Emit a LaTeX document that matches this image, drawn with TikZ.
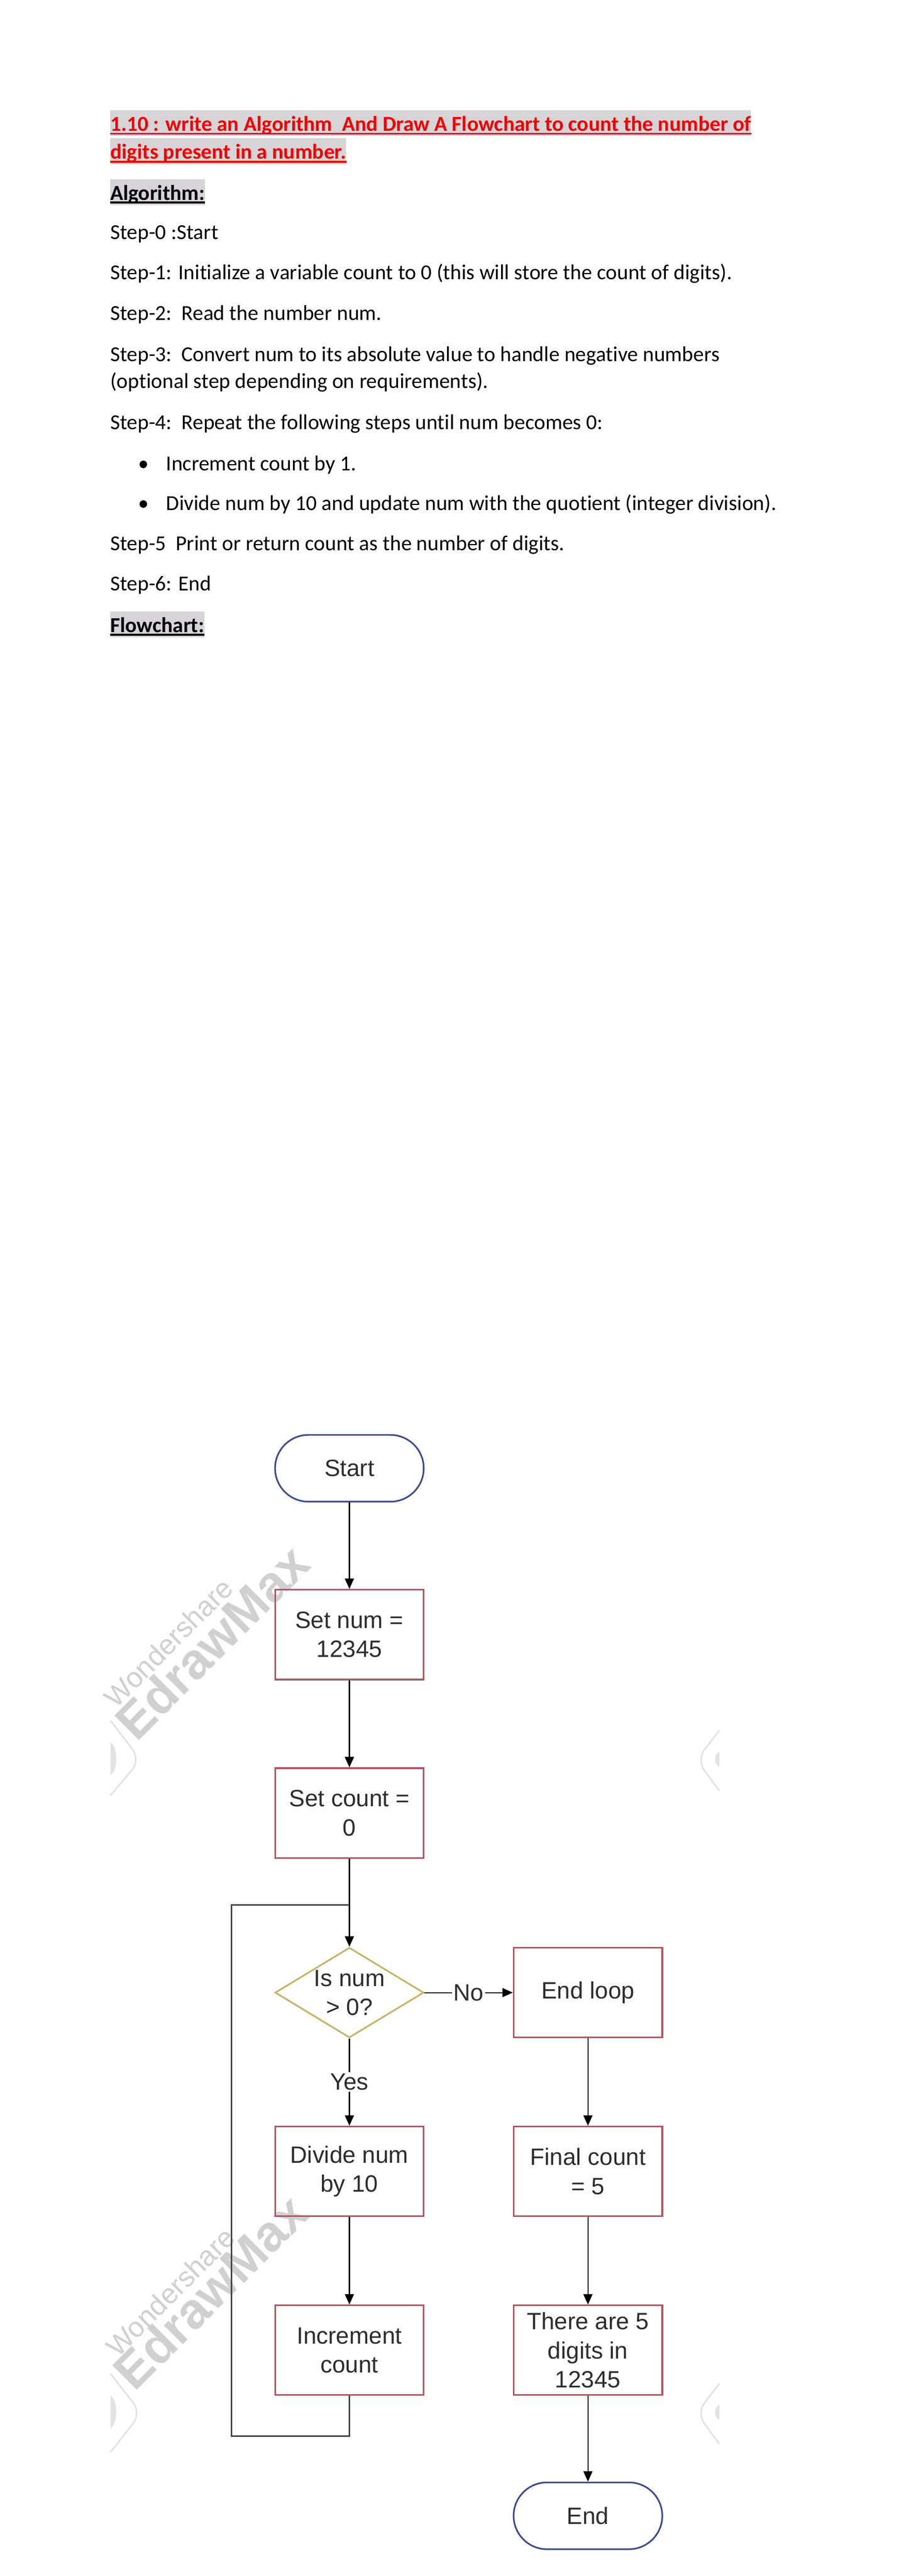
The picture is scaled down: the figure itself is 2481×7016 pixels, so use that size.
\documentclass[tikz,border=0pt]{standalone}
\usepackage{fontspec}
\setmainfont{Carlito}[Ligatures=NoCommon]
\newfontfamily\chartfont{Liberation Sans}
\usetikzlibrary{arrows.meta,shapes.geometric}
\definecolor{hlgrey}{RGB}{214,212,215}
\definecolor{titlered}{RGB}{240,0,0}
\definecolor{boxred}{RGB}{170,88,98}
\definecolor{termblue}{RGB}{62,76,140}
\definecolor{decgold}{RGB}{196,180,105}
\definecolor{chartink}{RGB}{45,45,45}
\definecolor{loopgrey}{RGB}{70,70,70}
\definecolor{wmgrey}{RGB}{208,208,208}
\definecolor{logogrey}{RGB}{226,226,226}
\begin{document}
\begin{tikzpicture}
    [x=0.08467mm, y=-0.08467mm,
    txt/.style = {anchor=base west, inner sep=0pt,
                font=\fontsize{14}{17}\selectfont},
    head/.style = {txt, fill=hlgrey, text height=4.83mm, text depth=1.19mm,
                font=\fontsize{14}{17}\selectfont\bfseries},
    box/.style = {draw=boxred, line width=0.38mm,
                minimum width=34.3mm, minimum height=20.7mm,
                align=center, text=chartink,
                font=\chartfont\fontsize{15.5}{19}\selectfont},
    term/.style = {box, draw=termblue, minimum height=15.4mm,
                rounded corners=7.7mm},
    dec/.style = {diamond, draw=decgold, line width=0.38mm,
                minimum width=34.3mm, minimum height=20.8mm, inner sep=0pt},
    arr/.style = {line width=0.25mm, -{Triangle[length=2.4mm,width=2.1mm]}},
    wm/.style = {anchor=base west, inner sep=0pt, rotate=45, text=wmgrey}]
    \fill[white] (0,0) rectangle (2481,7016);
    \useasboundingbox (0,0) rectangle (2481,7016);
    % algorithm text
    \node[head, text=titlered] (t1) at (300,357) {1.10 : write an Algorithm\ \ And Draw A Flowchart to count the number of};
    \node[head, text=titlered] (t2) at (300,433) {digits present in a number.};
    \draw[titlered, line width=0.45mm] ([yshift=-0.6mm]t1.base west) -- ([yshift=-0.6mm]t1.base east);
    \draw[titlered, line width=0.45mm] ([yshift=-0.6mm]t2.base west) -- ([yshift=-0.6mm]t2.base east);
    \node[head] (alg) at (300,545) {Algorithm:};
    \draw[line width=0.45mm] ([yshift=-0.55mm]alg.base west) -- ([yshift=-0.55mm]alg.base east);
    \node[txt] (s0) at (300,652) {Step-0 :Start};
    \node[txt] (s1) at (300,761) {Step-1: Initialize a variable count to 0 (this will store the count of digits).};
    \node[txt] (s2) at (300,872) {Step-2:\ \ Read the number num.};
    \node[txt] (s3a) at (300,984) {Step-3:\ \ Convert num to its absolute value to handle negative numbers};
    \node[txt] (s3b) at (300,1058) {(optional step depending on requirements).};
    \node[txt] (s4) at (300,1170) {Step-4:\ \ Repeat the following steps until num becomes 0:};
    \node[txt] (dot1) at (376,1282) {•};
    \node[txt] (b1) at (452,1282) {Increment count by 1.};
    \node[txt] (dot2) at (376,1390) {•};
    \node[txt] (b2) at (452,1390) {Divide num by 10 and update num with the quotient (integer division).};
    \node[txt] (s5) at (300,1500) {Step-5\ \ Print or return count as the number of digits.};
    \node[txt] (s6) at (300,1609) {Step-6: End};
    \node[head] (fc) at (300,1722) {Flowchart:};
    \draw[line width=0.45mm] ([yshift=-0.55mm]fc.base west) -- ([yshift=-0.55mm]fc.base east);
    % watermarks
    \node[wm, font=\chartfont\fontsize{18.4}{20}\selectfont] (wmA1) at (316,4655) {Wondershare};
    \node[wm, font=\chartfont\bfseries\fontsize{33}{36}\selectfont] (wmA2) at (372,4747) {EdrawMax};
    \node[wm, font=\chartfont\fontsize{18.4}{20}\selectfont] (wmB1) at (321,6424) {Wondershare};
    \node[wm, font=\chartfont\bfseries\fontsize{33}{36}\selectfont] (wmB2) at (367,6516) {EdrawMax};
    \draw[logogrey, line width=0.35mm, rounded corners=3mm] (301,4686) -- (383,4793) -- (301,4890);
    \fill[logogrey] (301,4745) .. controls (322,4760) and (322,4820) .. (301,4835) -- cycle;
    \draw[logogrey, line width=0.35mm, rounded corners=3mm] (1960,4713) -- (1898,4793) -- (1960,4877);
    \fill[logogrey] (1960,4770) .. controls (1945,4780) and (1945,4805) .. (1960,4812) -- cycle;
    \draw[logogrey, line width=0.35mm, rounded corners=3mm] (301,6465) -- (385,6572) -- (301,6679);
    \fill[logogrey] (301,6524) .. controls (322,6539) and (322,6599) .. (301,6614) -- cycle;
    \draw[logogrey, line width=0.35mm, rounded corners=3mm] (1960,6492) -- (1898,6572) -- (1960,6656);
    \fill[logogrey] (1960,6549) .. controls (1945,6559) and (1945,6584) .. (1960,6591) -- cycle;
    % flowchart
    \node[term] (start) at (952,3999) {Start};
    \node[box] (setnum) at (952,4452) {Set num =\\12345};
    \node[box] (setcnt) at (952,4938) {Set count =\\0};
    \node[dec] (isnum) at (952,5427) {};
    \node[align=center, text=chartink, inner sep=0pt,
        font=\chartfont\fontsize{15.5}{19}\selectfont] (isnumtxt) at (isnum) {Is num\\> 0?};
    \node[box] (divide) at (952,5914) {Divide num\\by 10};
    \node[box] (incr) at (952,6401) {Increment\\count};
    \node[box] (endlp) at (1602,5427) {End loop};
    \node[box] (final) at (1602,5914) {Final count\\= 5};
    \node[box] (there) at (1602,6401) {There are 5\\digits in\\12345};
    \node[term] (stop) at (1602,6852) {End};
    \coordinate (lpcorner) at (631,6635);
    \coordinate (lpjoin) at (952,5188);
    \draw[arr] (start) -- (setnum);
    \draw[arr] (setnum) -- (setcnt);
    \draw[arr] (setcnt) -- (isnum);
    \draw[arr] (isnum) -- node[fill=white, inner sep=1pt, text=chartink,
        font=\chartfont\fontsize{15.5}{19}\selectfont] (yes) {Yes} (divide);
    \draw[arr] (isnum) -- node[fill=white, inner sep=1pt, text=chartink,
        font=\chartfont\fontsize{15.5}{19}\selectfont] (no) {No} (endlp);
    \draw[arr] (divide) -- (incr);
    \draw[arr] (endlp) -- (final);
    \draw[arr] (final) -- (there);
    \draw[arr] (there) -- (stop);
    \draw[loopgrey, line width=0.3mm] (incr.south) |- (lpcorner) |- (lpjoin);
\end{tikzpicture}
\end{document}
